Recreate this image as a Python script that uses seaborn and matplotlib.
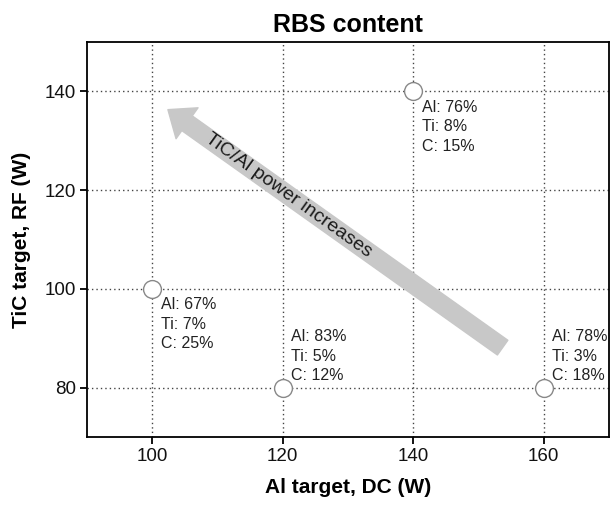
import matplotlib
matplotlib.use("Agg")
import matplotlib.pyplot as plt
import seaborn as sns
import pandas as pd

# Sputtering conditions and RBS composition
al_power = [100, 120, 140, 160]
tic_power = [100, 80, 140, 80]
al_pct = [67, 83, 76, 78]
ti_pct = [7, 5, 8, 3]
c_pct = [25, 12, 15, 18]
x_ticks = [100, 120, 140, 160]
y_ticks = [80, 100, 120, 140]

df = pd.DataFrame({"al": al_power, "tic": tic_power})

sns.set_theme(style="white")
plt.rcParams["font.family"] = ["Liberation Sans", "DejaVu Sans"]

fig = plt.figure(figsize=(6.11, 5.08), dpi=100)
ax = fig.add_axes([0.1424, 0.1398, 0.8543, 0.7775])

ax.set_xlim(90, 170)
ax.set_ylim(70, 150)
ax.set_xticks(x_ticks)
ax.set_yticks(y_ticks)
ax.grid(True, linestyle=(0, (1, 2.2)), color="#444444", linewidth=1.0)
ax.set_axisbelow(True)

# Direction arrow
ax.annotate("", xy=(102.4, 136.3), xytext=(153.7, 88.1),
            arrowprops=dict(arrowstyle="simple,head_length=1.3,head_width=2.1,tail_width=1.0",
                            color="#c8c8c8", mutation_scale=13, shrinkA=0, shrinkB=0),
            zorder=2)
ax.text(120.8, 119.0, "TiC/Al power increases", rotation=-35.6, rotation_mode="anchor",
        ha="center", va="center", fontsize=14, color="#1a1a1a", zorder=3)

sns.scatterplot(data=df, x="al", y="tic", ax=ax, s=165, facecolor="white",
                edgecolor="#888888", linewidth=1.0, zorder=4, legend=False)

for x, y, a, t, c in zip(al_power, tic_power, al_pct, ti_pct, c_pct):
    label = f"Al: {a}%\nTi: {t}%\nC: {c}%"
    if y > 90:
        ax.annotate(label, (x, y), xytext=(6, -6), textcoords="offset points",
                    ha="left", va="top", fontsize=11.5, color="#222222",
                    linespacing=1.38, zorder=5)
    else:
        ax.annotate(label, (x, y), xytext=(6, 3), textcoords="offset points",
                    ha="left", va="bottom", fontsize=11.5, color="#222222",
                    linespacing=1.38, zorder=5)

for sp in ax.spines.values():
    sp.set_color("black")
    sp.set_linewidth(1.3)

ax.tick_params(axis="both", direction="out", length=5, width=1.3, color="black",
               labelsize=13.5, labelcolor="#111111", pad=3, bottom=True, left=True)

ax.set_xlabel("Al target, DC (W)", fontsize=15, fontweight="bold", labelpad=9, color="black")
ax.set_ylabel("TiC target, RF (W)", fontsize=15, fontweight="bold", labelpad=10, color="black")
ax.set_title("RBS content", fontsize=18, fontweight="bold", pad=7, color="black")

fig.savefig("out.png", dpi=100)
